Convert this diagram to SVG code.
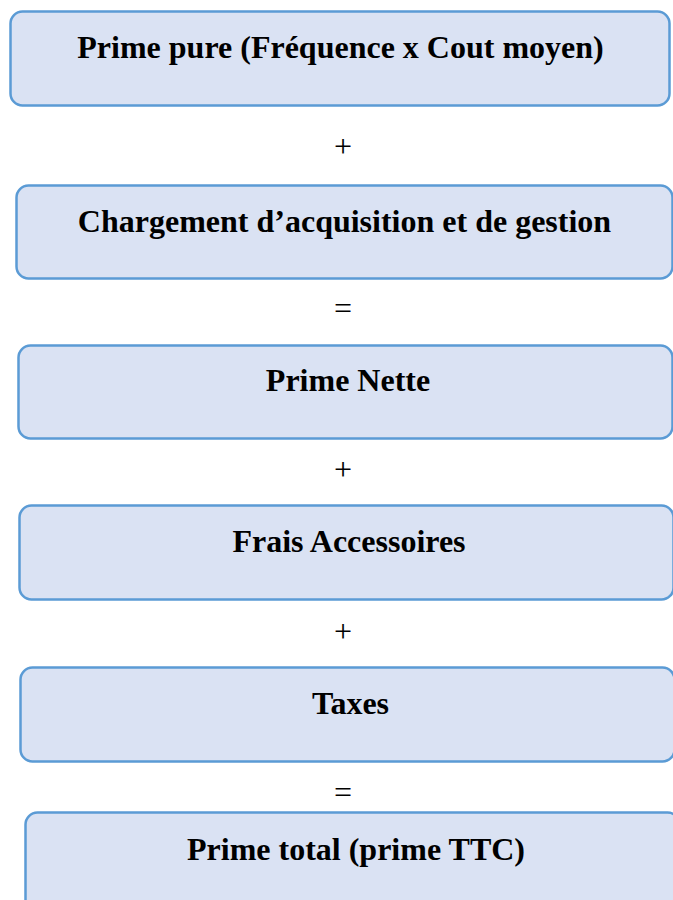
<svg xmlns="http://www.w3.org/2000/svg" width="673" height="900" viewBox="0 0 673 900">
<style>
.box{fill:#DAE2F3;stroke:#5B9BD5;stroke-width:2.5}
.t{font-family:"Liberation Serif","Times New Roman",serif;font-weight:bold;font-size:32px;fill:#000;text-anchor:middle}
.op{font-family:"Liberation Serif","Times New Roman",serif;font-size:32px;fill:#000;text-anchor:middle}
</style>
<rect width="673" height="900" fill="#fff"/>
<g id="n1"><rect class="box" x="10.5" y="11.5" width="659" height="94" rx="12"/><text class="t" x="340.5" y="58">Prime pure (Fréquence x Cout moyen)</text></g>
<g id="n2"><rect class="box" x="16.5" y="185.5" width="656" height="93" rx="12"/><text class="t" x="344.5" y="232">Chargement d’acquisition et de gestion</text></g>
<g id="n3"><rect class="box" x="18.5" y="345.5" width="654" height="93" rx="12"/><text class="t" x="348" y="391">Prime Nette</text></g>
<g id="n4"><rect class="box" x="19.5" y="505.5" width="654" height="94" rx="12"/><text class="t" x="349" y="552">Frais Accessoires</text></g>
<g id="n5"><rect class="box" x="20.5" y="667.5" width="654" height="94" rx="12"/><text class="t" x="350.5" y="714">Taxes</text></g>
<g id="n6"><rect class="box" x="25.5" y="812.5" width="654" height="100" rx="12"/><text class="t" x="356" y="860">Prime total (prime TTC)</text></g>
<g id="connectors">
<text class="op" x="343" y="157">+</text>
<text class="op" x="343" y="319">=</text>
<text class="op" x="343" y="480">+</text>
<text class="op" x="343" y="642">+</text>
<text class="op" x="343" y="803">=</text>
</g>
</svg>
